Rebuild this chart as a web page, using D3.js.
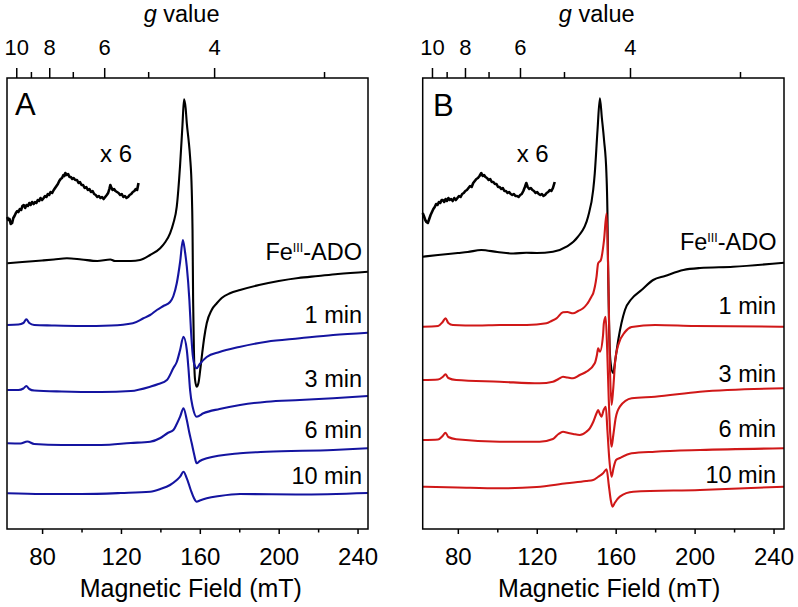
<!DOCTYPE html>
<html><head><meta charset="utf-8">
<script src="https://cdn.jsdelivr.net/npm/d3@7"></script>
<style>
body{margin:0;background:#fff}
svg{display:block}
text{font-family:"Liberation Sans",Arial,Helvetica,sans-serif;fill:#000}
</style>
</head><body>
<svg id="chart" width="798" height="607"></svg>
<script>
// ---------------- DATA ----------------
const fieldDomain = [62.2, 245.3];           // mT
const fieldTicks = [80, 120, 160, 200, 240];
const fieldMinorTicks = [100, 140, 180, 220];
const gMajorTicks = [10, 8, 6, 4];
const gMinorTicks = [9, 7, 5, 3];
const hvOverMuB = 669;                        // mT, field = hv/(g muB)
const timeLabels = ["1 min", "3 min", "6 min", "10 min"];
const panelLetters = ["A", "B"];

// intensities in stacked arbitrary units; [field (mT), intensity]
const feA = [[62.4,265.7],[70,267],[80,268.5],[86,269.5],[92.6,270.7],[100,269.5],[108,268],[114.6,269.5],[117,268],[125,268],[129.7,269],[134.8,274],[139.9,280.7],[142.5,287],[144.9,295.7],[146.6,306],[148.3,322.3],[150,364],[151.2,404],[152,429.7],[152.8,421],[153.4,405.7],[154.3,389],[155.05,372.3],[155.9,339],[156.3,299],[156.6,229],[157,179],[157.6,149],[158.4,142.3],[159.3,146],[160.2,159],[161,172.3],[162.2,191],[163.5,205.7],[166,219],[168.6,225.7],[171.1,231],[175.3,235.7],[180.4,239],[190,244],[200,248],[210,251],[220,253],[230,255],[245.2,257.3]];
const x6A = [[62.3,312],[62.9,309],[63.5,310],[64.1,305],[64.8,306],[65.4,311],[66,313],[66.7,316],[67.4,318],[68,317],[68.7,320],[69.4,319],[70,323],[70.7,324],[71.4,321],[72.1,324],[72.8,323],[73.5,326],[74.2,324],[74.9,327],[75.7,325],[76.4,327],[77.1,326],[77.8,329],[78.5,328],[79.2,331],[80,329],[80.8,331],[81.5,333],[82.2,332],[82.9,335],[83.6,334],[84.3,337],[85.1,336],[85.9,339],[86.6,341],[87.3,343],[88,345],[88.7,348],[89.4,350],[90.1,351],[90.8,354],[91.3,353],[91.8,356],[92.5,354],[93.2,355],[93.9,352],[94.6,352],[95.3,350],[96,351],[96.8,349],[97.7,349],[98.5,346],[99.2,347],[100,344],[100.8,344],[101.6,341],[102.4,342],[103.2,339],[104,340],[104.8,337],[105.6,338],[106.4,335],[107.2,334],[108,332],[108.8,333],[109.6,331],[110.4,332],[111.2,330],[112,332],[112.8,334],[113.5,336],[114.1,340],[114.6,344],[115.2,341],[115.8,339],[116.5,340],[117.2,338],[118,337],[118.8,336],[119.6,334],[120.4,335],[121.2,332],[122,333],[122.8,331],[123.6,332],[124.4,334],[125.2,335],[126,337],[126.8,338],[127.5,340],[128.2,339],[128.9,346]];
const blueA1 = [[62.4,204],[68,204.5],[70.5,206],[72,209.7],[73.5,206],[76,204],[85,203.5],[100,203],[115,203.5],[126,205.7],[131.4,210.7],[134.8,214],[138.2,219],[141.5,223],[144.9,227],[146.6,233],[148.3,245.7],[150,267],[151.4,289],[152.5,277],[153.4,262.3],[154.7,229],[155.5,199],[156.4,174],[157.5,163],[158.4,160.7],[160,165],[163.5,172],[170,177],[180,182],[193.9,187.3],[210.7,190.7],[227.6,194],[245.2,196.3]];
const blueA3 = [[62.4,139],[68,139],[70.5,140.5],[72,143],[73.5,140],[76,138.5],[90,137.5],[110,137],[125,138],[134.8,142.3],[139,145],[143.3,149],[146.6,161],[148.3,167],[150,179],[151.7,192.3],[153.4,179],[154.3,159],[155.05,139],[156.5,121],[158.4,112.3],[161.8,115.7],[170,120],[180.4,124],[193.9,127.3],[210.7,129],[227.6,130.7],[245.2,133]];
const blueA6 = [[62.4,85.7],[69,85.5],[72.5,87.5],[76,85],[90,84],[110,84],[125,86],[134.8,87.3],[140,91],[143.7,96],[146.6,99],[148.3,105],[150,112.3],[151.7,120.7],[153.4,109],[154.6,97],[155.9,85.7],[157.2,74],[158.4,65.7],[160,68],[163.5,70.7],[180.4,75.7],[193.9,77.3],[227.6,79],[245.2,80.7]];
const blueA10 = [[62.4,35.7],[80,35],[100,35],[120,36],[134.8,37.3],[140,40],[144.9,44],[148.3,49],[150,52.3],[151.7,57.3],[153.4,50.7],[155.4,39],[157,31],[158.4,27.3],[160,28.5],[163.5,30.7],[170,33],[180.4,35],[210,34.5],[245.2,36]];

const feB = [[62.2,272.3],[70,274],[80,276],[85,277],[91.9,279],[100,277],[108,275.5],[114.7,276.3],[120,276],[128.2,277.3],[135.1,282.3],[140.9,292.3],[146,312.3],[148.6,339],[149.4,355.7],[150.8,399],[152,430.7],[153,411],[154.1,389],[155.3,355.7],[155.8,319],[156.1,269],[156.6,209],[157.3,169],[158.7,155.7],[159.8,169],[161.3,189],[164.7,219],[168,230],[173.1,239],[179,249],[185,253],[194.3,259],[202.7,261],[219.5,262.3],[245.3,266.3]];
const x6B = [[62.2,316],[62.8,313],[63.5,309],[64.1,307],[64.8,306],[65.5,310],[66.2,314],[66.9,317],[67.6,320],[68.3,322],[69,325],[69.7,324],[70.4,327],[71.1,326],[71.8,329],[72.4,329],[73.1,327],[73.8,330],[74.5,328],[75.2,331],[75.9,329],[76.6,330],[77.4,328],[78.2,331],[79,329],[79.8,331],[80.6,333],[81.4,332],[82.2,335],[83,336],[83.8,338],[84.6,339],[85.4,341],[86.2,343],[87,342],[87.8,346],[88.6,348],[89.4,350],[90.2,351],[91,353],[91.9,356],[92.6,353],[93.3,354],[94,352],[94.8,351],[95.6,349],[96.4,350],[97.2,347],[98,347],[98.8,345],[99.6,345],[100.4,342],[101.2,342],[102,340],[102.8,341],[103.6,338],[104.4,338],[105.2,336],[106,337],[106.8,335],[107.6,334],[108.4,335],[109.2,333],[110,333],[110.8,332],[111.6,334],[112.4,335],[113.2,338],[114,342],[114.7,346],[115.4,342],[116.2,340],[117,341],[117.8,339],[118.6,338],[119.4,336],[120.2,337],[121,335],[121.8,334],[122.6,335],[123.4,333],[124.2,334],[125,336],[125.8,337],[126.6,339],[127.4,338],[128.2,341],[129.1,347]];
const redB1 = [[62.2,202.3],[70,203],[72.3,207],[73.75,210.7],[75.2,206],[77.5,204],[90,203.5],[101.2,204],[115,204],[124.9,205.7],[127.5,208],[130,210.7],[133.3,216.7],[135.5,217],[138.4,215.7],[141,218],[143.5,220.7],[145.5,225],[147.7,232.3],[148.6,235.7],[150.3,252.3],[151.1,265.7],[152.5,269],[154.1,289],[155.4,315.7],[156.2,259],[157,169],[157.9,124],[158.7,139],[159.8,169],[161.3,184],[164.7,197],[168.1,202],[180,204],[200,203],[245.3,202.3]];
const redB3 = [[62.2,149],[70,149.5],[72.3,152],[73.75,154.7],[75.2,151],[79.2,149],[101.2,147.3],[121.5,145.7],[128.2,147.3],[131,150],[133.3,152.3],[135.5,151.5],[138.4,150.7],[141.8,154],[145.2,157.3],[149.4,165.7],[150.5,174],[151.1,180.7],[152,177.3],[153.6,194],[154,205.7],[154.9,212.3],[155.7,179],[156.5,129],[157.9,82.3],[158.8,94],[160,111],[162.1,122.3],[168.1,130.7],[179.9,132.3],[202.7,137.3],[245.3,140.7]];
const redB6 = [[62.2,89],[70,89.5],[72.3,93],[73.75,96.3],[75.2,92],[79.2,89.7],[101.2,87.3],[121.5,87.3],[128.2,90],[131,95],[133.3,97.3],[136,96],[138.5,95],[141.8,94],[145,97],[146.9,100.7],[148.6,107],[150.3,115.7],[151.1,119],[152,115],[152.8,112.3],[153.9,119],[155,122.3],[155.8,99],[156.8,69],[157.9,52.3],[158.9,61],[160.2,69],[162.1,71],[168.1,75.7],[179.9,77.3],[202.7,79],[245.3,80.7]];
const redB10 = [[62.2,42.3],[80,41.5],[101.2,40.7],[120,42],[135.1,45.7],[145,48],[148.6,49],[151,52],[153.6,55.7],[155.4,59.7],[156.5,44],[157.5,29],[158.4,22.3],[159.5,26],[162.1,32.3],[168.9,37.3],[202.7,39],[245.3,42.3]];

// ---------------- DRAWING ----------------
(function () {
const svg = d3.select("#chart");
const plotTop = 78, plotBottom = 529;
const y = d3.scaleLinear().domain([0, 451]).range([plotBottom, plotTop]);
const font = '"Liberation Sans",Arial,Helvetica,sans-serif';

const panels = [
  {letter: panelLetters[0], left: 7, right: 368, color: "#1414a0", fe: feA, x6: x6A, series: [blueA1, blueA3, blueA6, blueA10],
   letterPos: [15, 115], x6Pos: [100, 161.7], fePos: [362, 260], timePos: [362, [323.3, 386.7, 438.3, 484]],
   gTitleX: 181.6, fieldTitleX: 190.8},
  {letter: panelLetters[1], left: 422.7, right: 784, color: "#d01818", fe: feB, x6: x6B, series: [redB1, redB3, redB6, redB10],
   letterPos: [433, 115.6], x6Pos: [516.7, 161.7], fePos: [776.5, 250], timePos: [776, [314.3, 381.7, 437.3, 483.3]],
   gTitleX: 596.7, fieldTitleX: 609.2}
];

panels.forEach(p => {
  const x = d3.scaleLinear().domain(fieldDomain).range([p.left, p.right]);
  const g = svg.append("g");
  const line = d3.line().x(d => x(d[0])).y(d => y(d[1])).curve(d3.curveMonotoneX);

  g.append("path").datum(p.fe).attr("d", line).attr("fill", "none").attr("stroke", "#000").attr("stroke-width", 2.1).attr("stroke-linejoin", "round");
  g.append("path").datum(p.x6).attr("d", d3.line().x(d => x(d[0])).y(d => y(d[1])))
    .attr("fill", "none").attr("stroke", "#000").attr("stroke-width", 2.6).attr("stroke-linejoin", "round");
  p.series.forEach(s => {
    g.append("path").datum(s).attr("d", line).attr("fill", "none").attr("stroke", p.color).attr("stroke-width", 2.1).attr("stroke-linejoin", "round");
  });

  g.append("rect").attr("x", p.left).attr("y", plotTop).attr("width", p.right - p.left).attr("height", plotBottom - plotTop)
    .attr("fill", "none").attr("stroke", "#000").attr("stroke-width", 1.5);

  const bAxis = g.append("g").attr("transform", `translate(0,${plotBottom})`)
    .call(d3.axisBottom(x).tickValues(fieldTicks).tickSize(5).tickSizeOuter(0));
  bAxis.select(".domain").remove();
  bAxis.selectAll("line").attr("stroke-width", 1.5);
  bAxis.selectAll("text").attr("y", 36).attr("dy", 0).style("font-size", "24px").style("font-family", font);
  g.append("g").attr("transform", `translate(0,${plotBottom})`)
    .call(d3.axisBottom(x).tickValues(fieldMinorTicks).tickSize(3.5).tickFormat(""))
    .call(a => a.select(".domain").remove()).selectAll("line").attr("stroke-width", 1.5);

  const tAxis = g.append("g").attr("transform", `translate(0,${plotTop})`)
    .call(d3.axisTop(x).tickValues(gMajorTicks.map(v => hvOverMuB / v)).tickSize(10)
      .tickFormat(f => d3.format("d")(Math.round(hvOverMuB / f))));
  tAxis.select(".domain").remove();
  tAxis.selectAll("line").attr("stroke-width", 1.5);
  tAxis.selectAll("text").attr("y", -23).attr("dy", 0).style("font-size", "22px").style("font-family", font);
  g.append("g").attr("transform", `translate(0,${plotTop})`)
    .call(d3.axisTop(x).tickValues(gMinorTicks.map(v => hvOverMuB / v)).tickSize(6).tickFormat(""))
    .call(a => a.select(".domain").remove()).selectAll("line").attr("stroke-width", 1.5);

  const gt = g.append("text").attr("x", p.gTitleX).attr("y", 21.5).attr("text-anchor", "middle").style("font-size", "23.5px");
  gt.append("tspan").style("font-style", "italic").text("g");
  gt.append("tspan").text(" value");
  g.append("text").attr("x", p.fieldTitleX).attr("y", 597).attr("text-anchor", "middle").style("font-size", "25px").text("Magnetic Field (mT)");

  g.append("text").attr("x", p.letterPos[0]).attr("y", p.letterPos[1]).style("font-size", "31px").text(p.letter);
  g.append("text").attr("x", p.x6Pos[0]).attr("y", p.x6Pos[1]).style("font-size", "24px").text("x 6");
  const fe = g.append("text").attr("x", p.fePos[0]).attr("y", p.fePos[1]).attr("text-anchor", "end").style("font-size", "23.5px");
  fe.append("tspan").text("Fe");
  fe.append("tspan").attr("dy", -8).style("font-size", "12.5px").text("III");
  fe.append("tspan").attr("dy", 8).text("-ADO");
  timeLabels.forEach((t, i) => {
    g.append("text").attr("x", p.timePos[0]).attr("y", p.timePos[1][i]).attr("text-anchor", "end").style("font-size", "23.5px").text(t);
  });
});
})();
</script>
</body></html>
